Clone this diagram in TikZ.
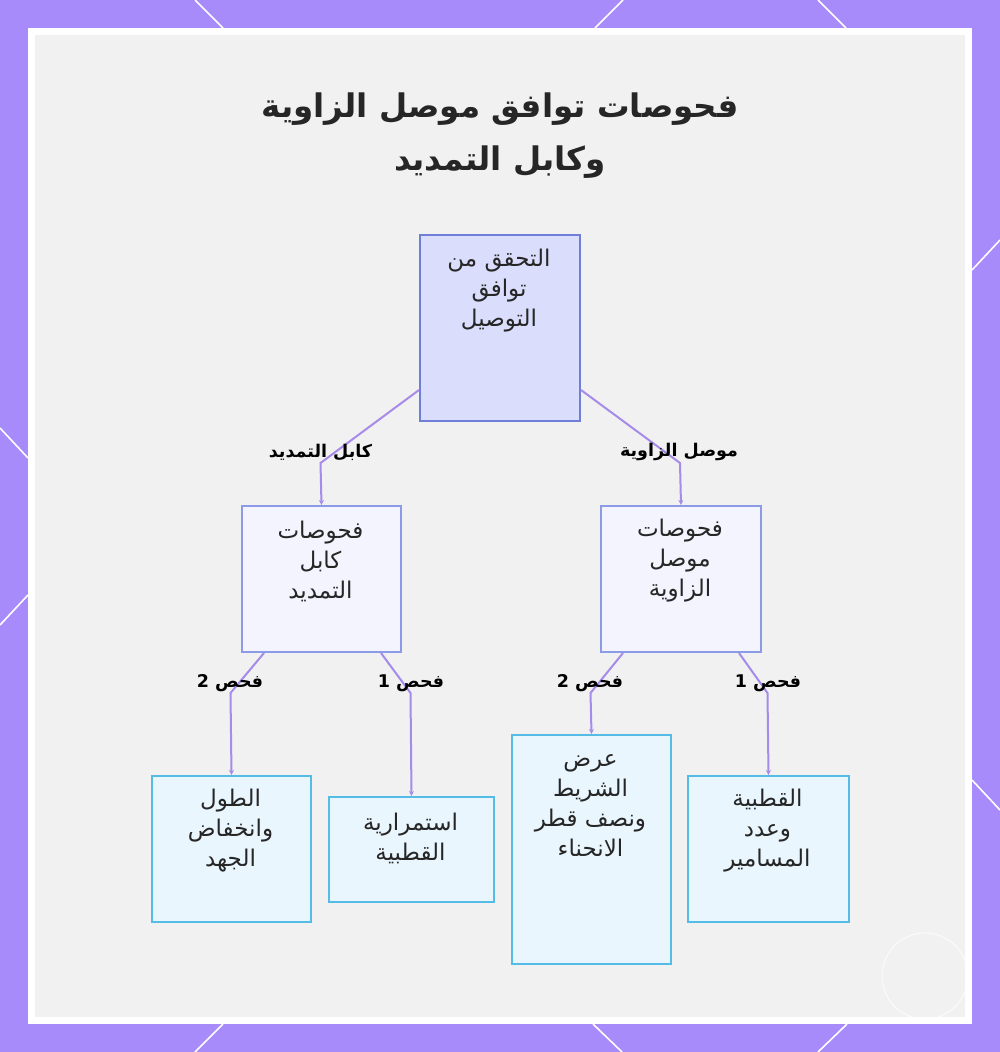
\documentclass[tikz,border=0pt]{standalone}
\usepackage{fontspec}
\newfontfamily\arabicfont[Script=Arabic]{DejaVu Sans}
\TeXXeTstate=1
\usetikzlibrary{arrows.meta}
\newcommand{\ar}[1]{{\arabicfont\beginR #1\endR}}
\definecolor{framec}{HTML}{A78BFA}
\definecolor{panelc}{HTML}{F1F1F1}
\definecolor{rootfill}{HTML}{DADDFB}
\definecolor{rootdraw}{HTML}{6F7FD8}
\definecolor{midfill}{HTML}{F3F4FD}
\definecolor{middraw}{HTML}{8C9BE6}
\definecolor{leaffill}{HTML}{EAF6FD}
\definecolor{leafdraw}{HTML}{55BDE5}
\definecolor{connc}{HTML}{A68BEA}
\definecolor{txtc}{HTML}{262626}
\tikzset{
  boxbase/.style={rectangle, anchor=north west, line width=2pt, inner sep=0pt},
  rootbox/.style={boxbase, fill=rootfill, draw=rootdraw},
  midbox/.style={boxbase, fill=midfill, draw=middraw},
  leafbox/.style={boxbase, fill=leaffill, draw=leafdraw},
  boxtext/.style={align=center, text=txtc, inner sep=0pt, font=\fontsize{23pt}{30pt}\selectfont},
  elabel/.style={text=black, inner sep=0pt, font=\fontsize{17.5pt}{20pt}\selectfont\bfseries},
  conn/.style={draw=connc, line width=2pt, -{Stealth[length=5pt,width=5pt]}},
  hexline/.style={white, line width=1.6pt}
}
\begin{document}
\begin{tikzpicture}[x=1pt,y=-1pt]
\useasboundingbox (0,0) rectangle (1000,1052);
% frame
\fill[framec] (0,0) rectangle (1000,1052);
\draw[hexline] (195,0) -- (223,28);
\draw[hexline] (623,0) -- (595,28);
\draw[hexline] (818,0) -- (846,28);
\draw[hexline] (223,1024) -- (195,1052);
\draw[hexline] (593,1024) -- (622,1052);
\draw[hexline] (847,1024) -- (818,1052);
\draw[hexline] (0,428) -- (28,458);
\draw[hexline] (28,595) -- (0,625);
\draw[hexline] (1000,240) -- (972,270);
\draw[hexline] (972,780) -- (1000,810);
\fill[white] (28,28) rectangle (972,1024);
\fill[panelc] (35,35) rectangle (965,1017);
\draw[white, line width=0.8pt, opacity=0.9] (925,976) circle (43);

% title
\node[align=center, text=txtc, font=\fontsize{32.5pt}{53pt}\selectfont\bfseries] (title) at (500,136)
  {\ar{فحوصات توافق موصل الزاوية}\\\ar{وكابل التمديد}};

% boxes
\node[rootbox, minimum width=160pt, minimum height=186pt] (root) at (419,234) {};
\node[midbox, minimum width=159pt, minimum height=146pt] (midL) at (241,505) {};
\node[midbox, minimum width=160pt, minimum height=146pt] (midR) at (600,505) {};
\node[leafbox, minimum width=159pt, minimum height=146pt] (leafA) at (151,775) {};
\node[leafbox, minimum width=165pt, minimum height=105pt] (leafB) at (328,796) {};
\node[leafbox, minimum width=159pt, minimum height=229pt] (leafC) at (511,734) {};
\node[leafbox, minimum width=161pt, minimum height=146pt] (leafD) at (687,775) {};

% box texts
\node[boxtext] (rootT) at (499,291) {\ar{التحقق من}\\\ar{توافق}\\\ar{التوصيل}};
\node[boxtext] (midLT) at (320.5,561) {\ar{فحوصات}\\\ar{كابل}\\\ar{التمديد}};
\node[boxtext] (midRT) at (680,561) {\ar{فحوصات}\\\ar{موصل}\\\ar{الزاوية}};
\node[boxtext] (leafAT) at (230.5,831) {\ar{الطول}\\\ar{وانخفاض}\\\ar{الجهد}};
\node[boxtext] (leafBT) at (410.5,838) {\ar{استمرارية}\\\ar{القطبية}};
\node[boxtext] (leafCT) at (590.5,806) {\ar{عرض}\\\ar{الشريط}\\\ar{ونصف قطر}\\\ar{الانحناء}};
\node[boxtext] (leafDT) at (767.5,831) {\ar{القطبية}\\\ar{وعدد}\\\ar{المسامير}};

% bend points
\coordinate (bL) at (320.5,463);
\coordinate (bR) at (680,463);
\coordinate (bA) at (230.5,693);
\coordinate (bB) at (410.5,693);
\coordinate (bC) at (590.5,693);
\coordinate (bD) at (767.5,693);

% connectors
\draw[conn] ([yshift=32pt]root.south west) -- (bL) -- (midL.north);
\draw[conn] ([yshift=32pt]root.south east) -- (bR) -- (midR.north);
\draw[conn] ([xshift=23pt]midL.south west) -- (bA) -- (leafA.north);
\draw[conn] ([xshift=-21pt]midL.south east) -- (bB) -- (leafB.north);
\draw[conn] ([xshift=23pt]midR.south west) -- (bC) -- (leafC.north);
\draw[conn] ([xshift=-23pt]midR.south east) -- (bD) -- (leafD.north);

% edge labels
\node[elabel] (lL) at (320.5,452) {\ar{كابل التمديد}};
\node[elabel] (lR) at (679,452) {\ar{موصل الزاوية}};
\node[elabel] (lA) at (230,683) {\ar{فحص 2}};
\node[elabel] (lB) at (411,683) {\ar{فحص 1}};
\node[elabel] (lC) at (590,683) {\ar{فحص 2}};
\node[elabel] (lD) at (768,683) {\ar{فحص 1}};
\end{tikzpicture}
\end{document}
